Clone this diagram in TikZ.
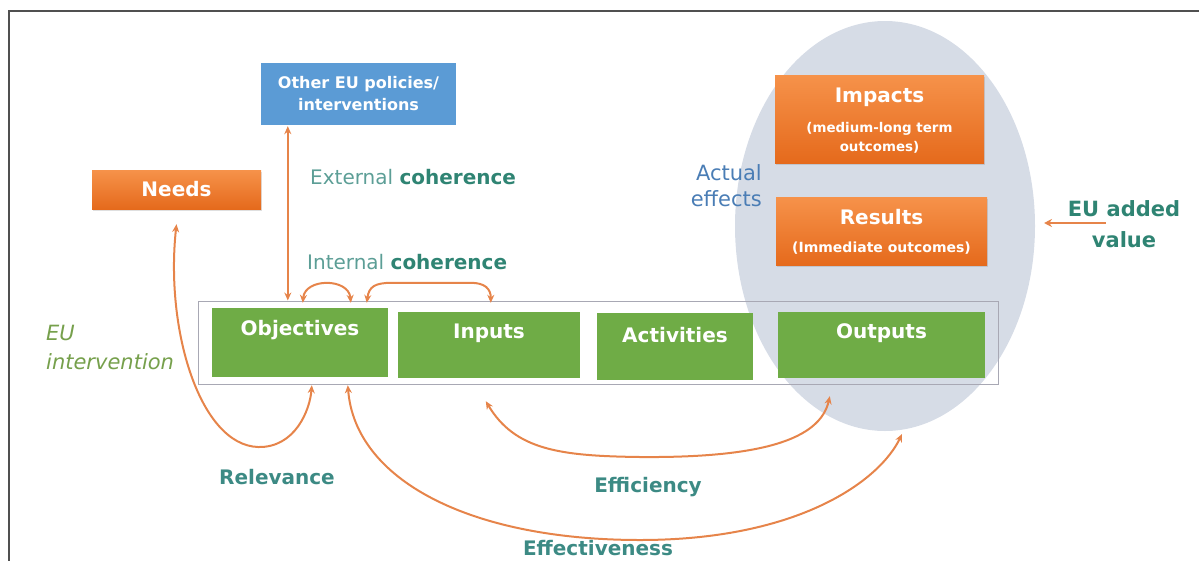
\documentclass[tikz,border=0pt]{standalone}
\usepackage{fontspec}
\setmainfont{DejaVu Sans}
\usetikzlibrary{arrows.meta,calc,shadows}
\definecolor{boxgreen}{HTML}{6FAC46}
\definecolor{boxblue}{HTML}{5B9BD5}
\definecolor{ellfill}{HTML}{D6DCE6}
\definecolor{arrorange}{HTML}{E6844A}
\definecolor{orangetop}{HTML}{F6924A}
\definecolor{orangebot}{HTML}{E56A1C}
\definecolor{tealdark}{HTML}{2F8473}
\definecolor{teallight}{HTML}{5C9E96}
\definecolor{tealmid}{HTML}{3C8A84}
\definecolor{effblue}{HTML}{4A7DB5}
\definecolor{olivegreen}{HTML}{76A04C}
\definecolor{framegray}{HTML}{505050}
\definecolor{contgray}{HTML}{A8A8B4}
\begin{document}
\begin{tikzpicture}[x=1pt,y=-1pt,
  greenbox/.style={fill=boxgreen, draw=none, inner sep=0pt},
  orangebox/.style={top color=orangetop, bottom color=orangebot, draw=none, inner sep=0pt,
     drop shadow={opacity=0.25, shadow xshift=1pt, shadow yshift=-2pt}},
  bluebox/.style={fill=boxblue, draw=none, inner sep=0pt},
  wtext/.style={text=white, font=\bfseries\fontsize{20}{24}\selectfont, inner sep=0pt},
  wsmall/.style={text=white, font=\bfseries\fontsize{13.4}{19}\selectfont, inner sep=0pt, align=center},
  lbl/.style={inner sep=0pt, font=\bfseries\fontsize{20}{24}\selectfont, text=tealmid},
  cohlbl/.style={inner sep=0pt, font=\fontsize{20}{24}\selectfont, text=teallight},
  arr/.style={draw=arrorange, line width=2pt, {Stealth[length=8pt,width=7pt]}-{Stealth[length=8pt,width=7pt]}},
  arrone/.style={draw=arrorange, line width=2.4pt, -{Stealth[length=8pt,width=8pt]}}
]
\useasboundingbox (0,0) rectangle (1199,560);
% outer frame
\draw[framegray, line width=2.5pt] (9,600) -- (9,11) -- (1230,11);

% ellipse of actual effects
\fill[ellfill] (885,226) ellipse [x radius=150pt, y radius=205pt];

% container
\node[draw=contgray, line width=1pt, minimum width=800pt, minimum height=83pt, inner sep=0pt] (cont) at (598,342.5) {};

% green boxes
\node[greenbox, minimum width=176pt, minimum height=69pt] (obj) at (300,342.5) {};
\node[greenbox, minimum width=182pt, minimum height=66pt] (inp) at (489,345) {};
\node[greenbox, minimum width=156pt, minimum height=67pt] (act) at (675,346.5) {};
\node[greenbox, minimum width=207pt, minimum height=66pt] (outp) at (881.5,345) {};
\node[wtext] at ($(obj.north)+(0,22)$) {Objectives};
\node[wtext] at ($(inp.north)+(0,21)$) {Inputs};
\node[wtext] at ($(act.north)+(0,22)$) {Activities};
\node[wtext] at ($(outp.north)+(0,21)$) {Outputs};

% blue box
\node[bluebox, minimum width=195pt, minimum height=62pt] (blue) at (358.5,94) {};
\node[text=white, font=\bfseries\fontsize{16}{22}\selectfont, align=center, inner sep=0pt] at (blue) {Other EU policies/\\interventions};

% needs
\node[orangebox, minimum width=169pt, minimum height=39pt] (needs) at (176.5,189.5) {};
\node[wtext] at (needs) {Needs};

% impacts / results
\node[orangebox, minimum width=209pt, minimum height=88pt] (imp) at (879.5,119) {};
\node[wtext] at ($(imp.north)+(0,22)$) {Impacts};
\node[wsmall] at ($(imp.north)+(0,63)$) {(medium-long term\\outcomes)};
\node[orangebox, minimum width=211pt, minimum height=68pt] (res) at (881.5,231) {};
\node[wtext] at ($(res.north)+(0,20)$) {Results};
\node[wsmall, font=\bfseries\fontsize{14}{19}\selectfont] at ($(res.north)+(0,51)$) {(Immediate outcomes)};

% side labels
\node[inner sep=0pt, text=effblue, font=\fontsize{21}{26}\selectfont, align=right, anchor=east] (actual) at (762,186) {Actual\\effects};
\node[inner sep=0pt, text=tealdark, font=\bfseries\fontsize{21}{31}\selectfont, align=center] (added) at (1124,224) {EU added\\value};
\node[inner sep=0pt, text=olivegreen, font=\itshape\fontsize{21}{29}\selectfont, align=left, anchor=west] (euint) at (46,347.5) {EU\\intervention};

% coherence labels
\node[cohlbl, anchor=west] (ext) at (310,177) {External \textbf{\textcolor{tealdark}{coherence}}};
\node[cohlbl, anchor=west] (int) at (307,262) {Internal \textbf{\textcolor{tealdark}{coherence}}};

% criterion labels
\node[lbl] (relev) at (277,477) {Relevance};
\node[lbl] (effic) at (648,487) {Efficiency};
\node[lbl] (effect) at (598,548) {Effectiveness};

% connector end points
\coordinate (extA) at ($(blue.south west)+(27,1)$);
\coordinate (extB) at (extA |- cont.north);
\coordinate (i1a) at ($(obj.north west)+(91,-5)$);
\coordinate (i1b) at ($(obj.north west)+(139,-5)$);
\coordinate (i2a) at ($(obj.north west)+(155,-5)$);
\coordinate (i2b) at ($(inp.north west)+(93,-9)$);
\coordinate (relA) at ($(needs.south)+(0,15)$);
\coordinate (relB) at ($(obj.south west)+(100,8)$);
\coordinate (effA) at ($(obj.south west)+(136,8)$);
\coordinate (effB) at (902,434);
\coordinate (efiA) at ($(inp.south west)+(88,23)$);
\coordinate (efiB) at ($(outp.south west)+(52,18)$);
\coordinate (addA) at ($(added.west)+(38,-1)$);
\coordinate (addB) at (1044,223);

% connectors
\draw[arr] (extA) -- (extB);
\draw[arr] (i1a) .. controls ($(i1a)+(2,-25)$) and ($(i1b)+(-2,-25)$) .. (i1b);
\draw[arr] (i2a) .. controls ($(i2a)+(2,-16)$) and ($(i2a)+(8,-20)$) .. ($(i2a)+(25,-20)$) -- ($(i2b)+(-20,-20)$) .. controls ($(i2b)+(-6,-20)$) and ($(i2b)+(0,-14)$) .. (i2b);
\draw[arr] (relA) .. controls (165,330) and (200,445) .. (258,447) .. controls (295,448) and (310,410) .. (relB);
\draw[arr] (effA) .. controls (355,480) and (470,540) .. (640,540) .. controls (800,540) and (880,480) .. (effB);
\draw[arr] (efiA) .. controls (515,450) and (560,456) .. (640,457) .. controls (760,458) and (820,440) .. (efiB);
\draw[arrone] (addA) -- (addB);
\end{tikzpicture}
\end{document}
